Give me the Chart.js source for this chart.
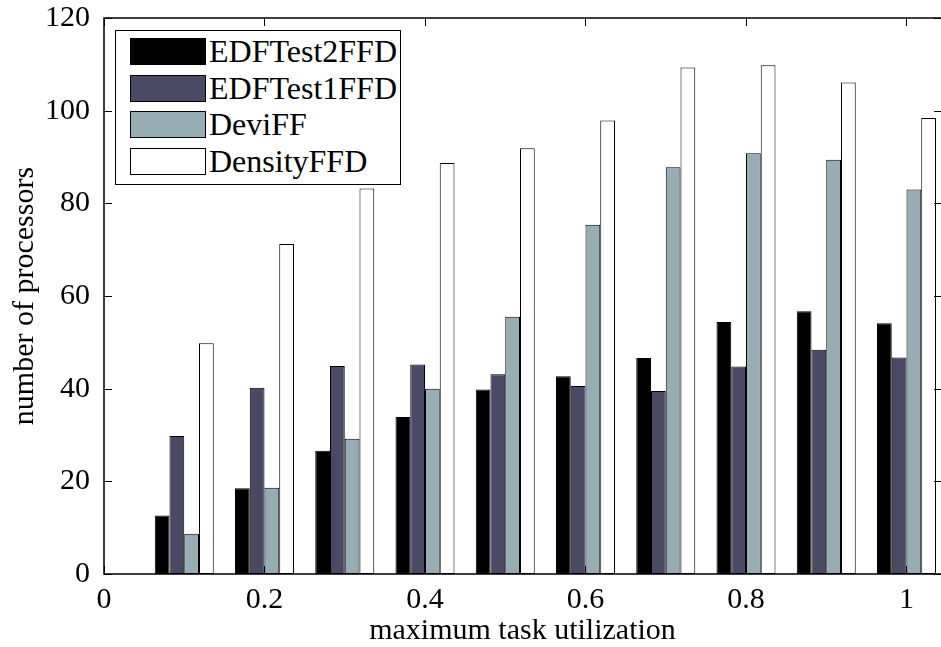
<!DOCTYPE html>
<html>
<head>
<meta charset="utf-8">
<script src="https://cdn.jsdelivr.net/npm/chart.js@4"></script>
<style>
  html, body { margin: 0; padding: 0; background: #fff; overflow: hidden; }
  #wrap { position: relative; width: 941px; height: 647px; }
  #legend {
    position: absolute; left: 115px; top: 30px; width: 284px; height: 153px;
    border: 1px solid #000; background: #fff;
    font-family: "Liberation Serif", "DejaVu Serif", serif; font-size: 32px; color: #000;
  }
  .row { position: absolute; left: 14px; height: 27px; display: flex; align-items: center; white-space: nowrap; }
  .sw { width: 74px; height: 25px; border: 1px solid #000; margin-right: 3px; }
</style>
</head>
<body>
<div id="wrap">
  <canvas id="c" width="941" height="647"></canvas>
  <div id="legend"></div>
</div>
<script>
// x positions of the bar groups
var utilization = [0.1, 0.2, 0.3, 0.4, 0.5, 0.6, 0.7, 0.8, 0.9, 1.0];

// number of processors per algorithm
var edfTest2FFD = [12.6, 18.5, 26.6, 33.9, 39.8, 42.7, 46.6, 54.4, 56.7, 54.1];
var edfTest1FFD = [29.8, 40.2, 44.9, 45.2, 43.1, 40.6, 39.5, 44.8, 48.4, 46.7];
var deviFF      = [8.7, 18.6, 29.2, 40.0, 55.5, 75.4, 87.8, 90.8, 89.4, 83.0];
var densityFFD  = [49.8, 71.2, 83.2, 88.7, 91.9, 97.9, 109.3, 109.8, 106.1, 98.4];

var seriesNames = ['EDFTest2FFD', 'EDFTest1FFD', 'DeviFF', 'DensityFFD'];
var seriesColors = ['#000000', '#4a4966', '#96adb3', '#ffffff'];
var seriesValues = [edfTest2FFD, edfTest1FFD, deviFF, densityFFD];

var serif = '"Liberation Serif", "DejaVu Serif", serif';

function points(vals) {
  return vals.map(function (v, i) { return {x: utilization[i], y: v}; });
}

// MATLAB style: axes box (right edge is cropped off) and inward tick marks
var boxTicks = {
  id: 'boxTicks',
  afterDatasetsDraw: function (chart) {
    var ctx = chart.ctx, a = chart.chartArea;
    var xs = chart.scales.x, ys = chart.scales.y;
    var len = 8;
    var right = chart.width + 1;
    ctx.save();
    ctx.strokeStyle = '#000';
    ctx.lineWidth = 1;
    ctx.beginPath();
    ys.ticks.forEach(function (t) {
      var py = Math.round(ys.getPixelForValue(t.value)) + 0.5;
      ctx.moveTo(a.left, py); ctx.lineTo(a.left + len, py);
      ctx.moveTo(right, py); ctx.lineTo(right - len, py);
    });
    xs.ticks.forEach(function (t) {
      var px = Math.round(xs.getPixelForValue(t.value)) + 0.5;
      ctx.moveTo(px, a.bottom); ctx.lineTo(px, a.bottom - len);
      ctx.moveTo(px, a.top); ctx.lineTo(px, a.top + len);
    });
    ctx.stroke();
    ctx.lineWidth = 1.5;
    ctx.beginPath();
    ctx.moveTo(chart.width, a.top);
    ctx.lineTo(a.left, a.top);
    ctx.lineTo(a.left, a.bottom);
    ctx.lineTo(chart.width, a.bottom);
    ctx.stroke();
    ctx.restore();
  }
};

var chart = new Chart(document.getElementById('c'), {
  type: 'bar',
  data: {
    datasets: seriesNames.map(function (name, i) {
      return {
        label: name,
        data: points(seriesValues[i]),
        backgroundColor: seriesColors[i],
        borderColor: '#000',
        borderWidth: 1,
        borderSkipped: false
      };
    })
  },
  options: {
    responsive: false,
    animation: false,
    categoryPercentage: 0.735,
    barPercentage: 1.0,
    layout: {padding: {top: 18, left: 0, right: 0, bottom: 0}},
    plugins: {legend: {display: false}, tooltip: {enabled: false}},
    scales: {
      x: {
        type: 'linear',
        offset: false,
        min: 0,
        max: 1.043,
        grid: {display: false},
        border: {display: false},
        ticks: {
          stepSize: 0.2,
          includeBounds: false,
          padding: 0,
          color: '#000',
          font: {family: serif, size: 30},
          maxRotation: 0,
          callback: function (v) { return String(Math.round(v * 10) / 10); }
        },
        title: {
          display: true, text: 'maximum task utilization', color: '#000',
          font: {family: serif, size: 30, lineHeight: 1}, padding: {top: 0, bottom: 1}
        },
        afterFit: function (s) { s.height = 73; s.paddingLeft = 0; s.paddingRight = 0; }
      },
      y: {
        min: 0,
        max: 120,
        grid: {display: false},
        border: {display: false},
        ticks: {stepSize: 20, padding: 6, color: '#000', font: {family: serif, size: 30}},
        title: {
          display: true, text: 'number of processors', color: '#000',
          font: {family: serif, size: 30, lineHeight: 1}, padding: {top: 10, bottom: 0}
        },
        afterFit: function (s) { s.width = 104; s.paddingTop = 0; s.paddingBottom = 0; }
      }
    }
  },
  plugins: [boxTicks]
});

// legend drawn as an overlay box, like the MATLAB one
var legend = document.getElementById('legend');
seriesNames.forEach(function (name, i) {
  var row = document.createElement('div');
  row.className = 'row';
  row.style.top = (7 + i * 36.7) + 'px';
  var sw = document.createElement('div');
  sw.className = 'sw';
  sw.style.background = seriesColors[i];
  var tx = document.createElement('span');
  tx.textContent = name;
  row.appendChild(sw);
  row.appendChild(tx);
  legend.appendChild(row);
});
</script>
</body>
</html>
